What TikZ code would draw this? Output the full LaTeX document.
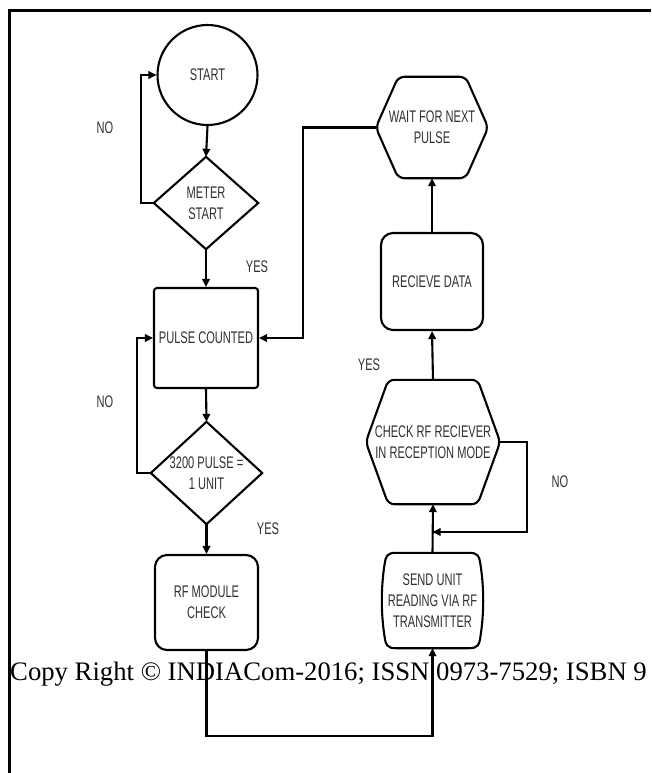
\documentclass[tikz,border=0pt]{standalone}
\usepackage{fontspec}
\usetikzlibrary{arrows.meta}
\newfontfamily\narrowfont[FakeStretch=0.66]{Liberation Sans}
\newfontfamily\serfont{Liberation Serif}
\definecolor{txtgray}{HTML}{303030}
\tikzset{
  lbl/.style={font=\narrowfont\fontsize{16.8}{21}\selectfont, text=txtgray, align=center, inner sep=0pt},
  outline/.style={draw=black, line width=2.1pt},
  boxr/.style={lbl, outline, rectangle, rounded corners=#1},
  holder/.style={lbl, rectangle, draw=none},
  arr/.style={draw=black, line width=2.1pt, -{Triangle[length=8pt,width=7.5pt]}},
}
\begin{document}
\begin{tikzpicture}[x=1pt,y=-1pt]
\path[use as bounding box] (0,0) rectangle (651,773);
% frame
\draw[line width=2.2pt] (9.5,773) -- (9.5,10.5) -- (651,10.5);

% nodes
\node[lbl, outline, circle, minimum size=100pt] (start) at (207.5,75) {START};
\node[holder, minimum width=104pt, minimum height=92pt] (meter) at (206,203) {METER\\START};
\node[boxr=3pt, minimum width=104pt, minimum height=100pt] (pulse) at (206,338) {PULSE COUNTED};
\node[holder, minimum width=111pt, minimum height=102pt] (unit) at (206.5,473) {3200 PULSE =\\1 UNIT};
\node[boxr=12pt, minimum width=103pt, minimum height=95pt] (rfmod) at (206.5,602.5) {RF MODULE\\CHECK};
\node[holder, minimum width=101pt, minimum height=95pt] (send) at (432.5,600.5) {SEND UNIT\\READING VIA RF\\TRANSMITTER};
\node[holder, minimum width=134pt, minimum height=124pt] (check) at (433,442) {CHECK RF RECIEVER\\IN RECEPTION MODE};
\node[boxr=12pt, minimum width=102pt, minimum height=97pt] (recv) at (432,281.5) {RECIEVE DATA};
\node[holder, minimum width=112pt, minimum height=101pt] (wait) at (432,127.5) {WAIT FOR NEXT\\PULSE};

% custom outlines
\draw[outline] (meter.north) -- (meter.east) -- (meter.south) -- (meter.west) -- cycle;
\draw[outline] (unit.north) -- (unit.east) -- (unit.south) -- (unit.west) -- cycle;
\draw[outline, rounded corners=6pt] ([xshift=22.5pt]wait.north west) -- ([xshift=-22.5pt]wait.north east) -- (wait.east) -- ([xshift=-22.5pt]wait.south east) -- ([xshift=22.5pt]wait.south west) -- (wait.west) -- cycle;
\draw[outline, rounded corners=6pt] ([xshift=22.5pt]check.north west) -- ([xshift=-22.5pt]check.north east) -- (check.east) -- ([xshift=-22.5pt]check.south east) -- ([xshift=22.5pt]check.south west) -- (check.west) -- cycle;
\draw[outline] ([xshift=14pt]send.north west) -- ([xshift=-14pt]send.north east)
  .. controls ([xshift=-5pt]send.north east) and ([xshift=-4pt,yshift=-4pt]send.north east) .. ([xshift=-3pt,yshift=-10pt]send.north east)
  .. controls ([xshift=1pt,yshift=-35pt]send.north east) and ([xshift=1pt,yshift=35pt]send.south east) .. ([xshift=-3pt,yshift=10pt]send.south east)
  .. controls ([xshift=-4pt,yshift=4pt]send.south east) and ([xshift=-5pt]send.south east) .. ([xshift=-14pt]send.south east)
  -- ([xshift=14pt]send.south west)
  .. controls ([xshift=5pt]send.south west) and ([xshift=4pt,yshift=4pt]send.south west) .. ([xshift=3pt,yshift=10pt]send.south west)
  .. controls ([xshift=-1pt,yshift=35pt]send.south west) and ([xshift=-1pt,yshift=-35pt]send.north west) .. ([xshift=3pt,yshift=-10pt]send.north west)
  .. controls ([xshift=4pt,yshift=-4pt]send.north west) and ([xshift=5pt]send.north west) .. cycle;

% connectors
\coordinate (merge) at (432.5,532);
\draw[arr] (start.south) -- (meter.north);
\draw[arr] (meter.west) -- ++(-13,0) |- (start.west);
\draw[arr] (meter.south) -- (pulse.north);
\draw[arr] (pulse.south) -- (unit.north);
\draw[arr] (unit.west) -- ++(-14,0) |- (pulse.west);
\draw[arr] (unit.south) -- (rfmod.north);
\draw[arr] (rfmod.south) -- ++(0,85) -| (send.south);
\draw[arr] (send.north) -- (check.south);
\draw[arr] (check.east) -- ++(27,0) |- (merge);
\draw[arr] (check.north) -- (recv.south);
\draw[arr] (recv.north) -- (wait.south);
\draw[arr] (wait.west) -- ++(-73,0) |- (pulse.east);

% labels
\node[lbl] (no1) at (105,128) {NO};
\node[lbl] (yes1) at (257,267) {YES};
\node[lbl] (no2) at (105,402) {NO};
\node[lbl] (yes2) at (268,529) {YES};
\node[lbl] (yes3) at (369,365) {YES};
\node[lbl] (no3) at (560,482) {NO};

% copyright
\node[anchor=base west, inner sep=0pt, font=\serfont\fontsize{26.7}{30}\selectfont] (copy) at (10,680) {Copy Right © INDIACom-2016; ISSN 0973-7529; ISBN 9};
\end{tikzpicture}
\end{document}
